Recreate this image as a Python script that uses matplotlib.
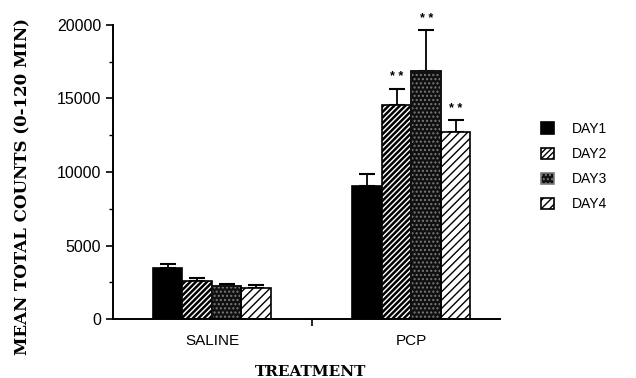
"""Mean total counts (0-120 min) by treatment and day."""
import numpy as np
import matplotlib
matplotlib.use('Agg')
import matplotlib.pyplot as plt

treatments = ['SALINE', 'PCP']
days = ['DAY1', 'DAY2', 'DAY3', 'DAY4']

# means and upper SEM per day, order: SALINE, PCP
day1 = [3500, 9050]
day2 = [2600, 14550]
day3 = [2250, 16850]
day4 = [2100, 12750]
day1_err = [250, 780]
day2_err = [160, 1130]
day3_err = [130, 2800]
day4_err = [230, 760]
# significance markers above bars
day1_sig = ['', '']
day2_sig = ['', '* *']
day3_sig = ['', '* *']
day4_sig = ['', '* *']

plt.rcParams['font.family'] = ['Liberation Sans', 'DejaVu Sans']

fig = plt.figure(figsize=(6.36, 3.78), dpi=100)
ax = fig.add_axes([113 / 636, 1 - 319 / 378, 387 / 636, 294 / 378])

x = np.arange(len(treatments))
w = 0.148
series = [
    (day1, day1_err, day1_sig, 1.0, dict(facecolor='black', edgecolor='black')),
    (day2, day2_err, day2_sig, 1.8, dict(facecolor='white', edgecolor='black', hatch='//////')),
    (day3, day3_err, day3_sig, 1.0, dict(facecolor='#101010', edgecolor='#7a7a7a', hatch='....')),
    (day4, day4_err, day4_sig, 1.0, dict(facecolor='white', edgecolor='black', hatch='////')),
]

handles = []
for i, (vals, errs, sig, hlw, style) in enumerate(series):
    plt.rcParams['hatch.linewidth'] = hlw
    pos = x + (i - 1.5) * w
    bars = ax.bar(pos, vals, width=w, linewidth=1.2, zorder=2, **style)
    if i == 2:
        ax.bar(pos, vals, width=w, fill=False, edgecolor='black', linewidth=1.2, zorder=3)
    ax.errorbar(pos, vals, yerr=[np.zeros(len(vals)), errs], fmt='none',
                ecolor='black', elinewidth=1.3, capsize=5.5, capthick=1.5, zorder=1)
    for p, v, e, s in zip(pos, vals, errs, sig):
        if s:
            ax.text(p, v + e + 350, s, ha='center', va='bottom', fontsize=9,
                    fontweight='bold')
    handles.append(bars)

ax.set_xlim(-0.496, 1.444)
ax.set_ylim(0, 20000)
ax.set_yticks([0, 5000, 10000, 15000, 20000])
ax.set_yticks(np.arange(2500, 20000, 5000), minor=True)
ax.tick_params(axis='y', which='major', labelsize=11.5, length=5, width=1.2, direction='out')
ax.tick_params(axis='y', which='minor', length=3, width=1, direction='out')

ax.set_xticks([0.5])
ax.set_xticklabels([''])
ax.set_xticks(x, minor=True)
ax.set_xticklabels(treatments, minor=True)
ax.tick_params(axis='x', which='major', length=5, width=1.2, direction='out')
ax.tick_params(axis='x', which='minor', length=0, labelsize=11, pad=11)

for side in ['top', 'right']:
    ax.spines[side].set_visible(False)
for side in ['left', 'bottom']:
    ax.spines[side].set_linewidth(1.4)

ax.set_ylabel('MEAN TOTAL COUNTS (0-120 MIN)', family='DejaVu Serif',
              fontweight='bold', fontsize=12)
ax.yaxis.set_label_coords(-0.212, 0.45)
ax.set_xlabel('TREATMENT', family='DejaVu Serif', fontweight='bold', fontsize=11)
ax.xaxis.set_label_coords(0.51, -0.155)

ax.legend(handles, days, loc='upper left', bbox_to_anchor=(541 / 636, 1 - 122 / 378),
          bbox_transform=fig.transFigure, frameon=False, fontsize=10,
          handlelength=0.9, handleheight=0.9, handletextpad=1.3,
          labelspacing=0.8, borderpad=0, borderaxespad=0)

fig.savefig('out.png', dpi=100)
